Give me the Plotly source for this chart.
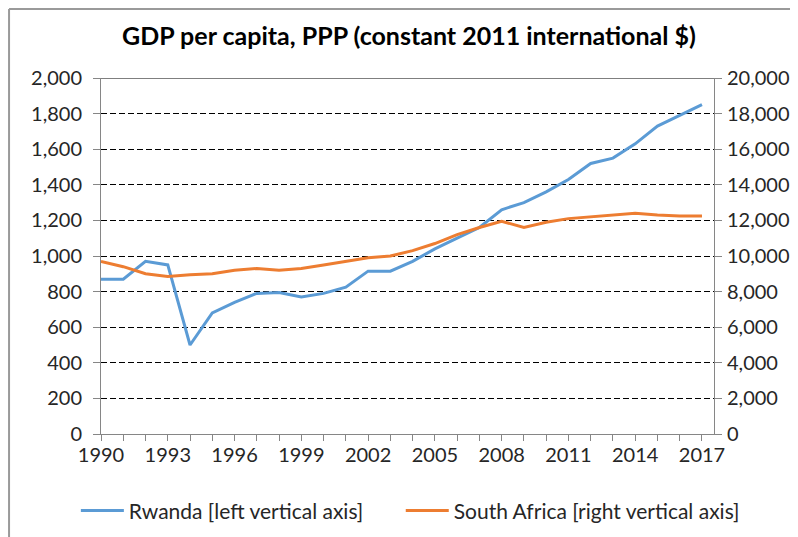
import plotly.graph_objects as go

years = list(range(1990, 2018))

rwanda = [870, 870, 970, 950, 500, 680, 740, 790, 795, 770,
          790, 825, 915, 915, 970, 1040, 1100, 1160, 1260, 1300,
          1360, 1430, 1520, 1550, 1630, 1730, 1790, 1850]

south_africa = [9700, 9400, 9000, 8850, 8950, 9000, 9200, 9300, 9200, 9300,
                9500, 9700, 9900, 10000, 10300, 10700, 11200, 11600, 11950, 11600,
                11900, 12100, 12200, 12300, 12400, 12300, 12250, 12250]

left_ticks = list(range(0, 2001, 200))
right_ticks = list(range(0, 20001, 2000))
year_labels = list(range(1990, 2018, 3))

font_family = "Lato, 'Open Sans', sans-serif"
axis_grey = "#868686"

fig = go.Figure()

fig.add_trace(go.Scatter(x=years, y=rwanda, mode="lines",
                         name="Rwanda [left vertical axis]",
                         line=dict(color="#5B9BD5", width=3),
                         yaxis="y", legend="legend"))
fig.add_trace(go.Scatter(x=years, y=south_africa, mode="lines",
                         name="South Africa [right vertical axis]",
                         line=dict(color="#ED7D31", width=3),
                         yaxis="y2", legend="legend2"))

# solid line on top of the plot area
fig.add_shape(type="line", xref="paper", yref="y", x0=0, x1=1, y0=2000, y1=2000,
              line=dict(color="black", width=1))
# outer frame (left and top edge of the screenshot)
fig.add_shape(type="line", xref="paper", yref="paper", x0=-0.150, x1=-0.150,
              y0=-0.3, y1=1.1938, line=dict(color="#9a9a9a", width=2))
fig.add_shape(type="line", xref="paper", yref="paper", x0=-0.150, x1=1.2,
              y0=1.1938, y1=1.1938, line=dict(color="#9a9a9a", width=2))

legend_style = dict(orientation="h", xanchor="left", y=-0.1585, yanchor="top",
                    itemwidth=43, bgcolor="rgba(0,0,0,0)",
                    font=dict(family=font_family, size=21, color="#262626"))

fig.update_layout(
    width=790,
    height=529,
    paper_bgcolor="white",
    plot_bgcolor="white",
    margin=dict(l=93, r=84, t=70, b=103, pad=0, autoexpand=False),
    font=dict(family=font_family, size=20, color="#262626"),
    title=dict(text="<b>GDP per capita, PPP (constant 2011 international $)</b>",
               x=0.5076, xanchor="center", y=0.9471, yanchor="middle",
               font=dict(family=font_family, size=25, color="black")),
    xaxis=dict(range=[1990, 2017.54], tickvals=year_labels,
               ticks="outside", ticklen=6, tickcolor=axis_grey,
               ticklabelstandoff=-3,
               minor=dict(dtick=1, tick0=1990, ticks="outside", ticklen=6,
                          tickcolor=axis_grey, showgrid=False),
               showline=True, linecolor=axis_grey, linewidth=1,
               showgrid=False, zeroline=False),
    yaxis=dict(range=[0, 2000], tickvals=left_ticks, tickformat=",d",
               ticks="outside", ticklen=7, tickcolor=axis_grey,
               ticklabelstandoff=7,
               showline=True, linecolor=axis_grey, linewidth=1,
               showgrid=True, gridcolor="black", gridwidth=1, griddash="6px,3px",
               zeroline=False),
    yaxis2=dict(range=[0, 20000], tickvals=right_ticks, tickformat=",d",
                overlaying="y", side="right",
                ticks="outside", ticklen=7, tickcolor=axis_grey,
                ticklabelstandoff=1,
                showline=True, linecolor=axis_grey, linewidth=1,
                showgrid=False, zeroline=False),
    legend=dict(x=-0.041, **legend_style),
    legend2=dict(x=0.489, **legend_style),
    showlegend=True,
)

fig.write_html("out.html")
